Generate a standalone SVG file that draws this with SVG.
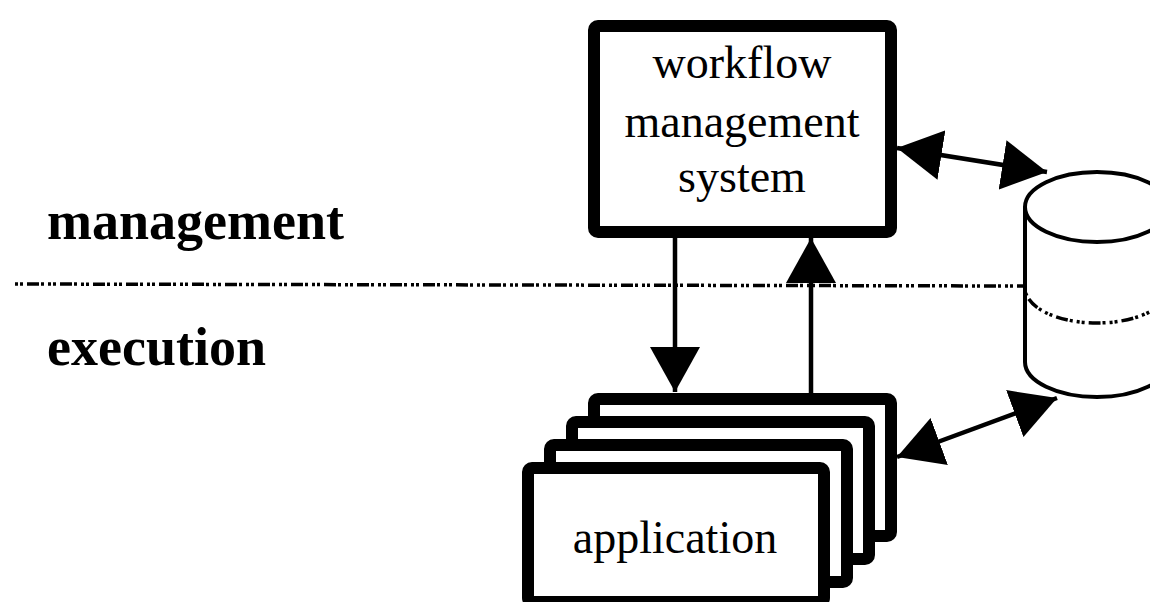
<svg xmlns="http://www.w3.org/2000/svg" width="1150" height="602" viewBox="0 0 1150 602">
<style>
.box{fill:#fff;stroke:#000;stroke-width:12;stroke-linejoin:round}
.lbl{font-family:"Liberation Serif","Times New Roman",serif;font-size:46px;fill:#000;text-anchor:middle}
.side{font-family:"Liberation Serif","Times New Roman",serif;font-size:54px;font-weight:bold;fill:#000}
.conn{stroke:#000;stroke-width:4.5;fill:none}
.dot{stroke:#000;stroke-width:3.5;fill:none;stroke-dasharray:3 2 3 4 12 2 3 4}
.cyl{fill:#fff;stroke:#000;stroke-width:4}
</style>
<defs>
<marker id="ah" markerUnits="userSpaceOnUse" markerWidth="46" markerHeight="50" refX="45" refY="25" orient="auto-start-reverse" viewBox="0 0 46 50">
<path d="M0,0 L45,25 L0,50 z" fill="#000"/>
</marker>
</defs>
<rect width="1150" height="602" fill="#fff"/>
<g id="labels">
<text class="side" x="47" y="239">management</text>
<text class="side" x="47" y="365">execution</text>
</g>
<line class="dot" x1="15" y1="284" x2="1025" y2="286"/>
<g id="database">
<path class="cyl" d="M1025,207 L1025,362 A72,35 0 0 0 1169,362 L1169,207"/>
<ellipse class="cyl" cx="1097" cy="207" rx="72" ry="35"/>
<path class="dot" d="M1025,288 A72,35 0 0 0 1169,288"/>
</g>
<g id="wfms">
<rect class="box" x="594" y="26" width="297" height="206" rx="4"/>
<text class="lbl" x="742" y="78">workflow</text>
<text class="lbl" x="742" y="137">management</text>
<text class="lbl" x="742" y="192">system</text>
</g>
<g id="application">
<rect class="box" x="594" y="399" width="297" height="137" rx="4"/>
<rect class="box" x="572" y="422" width="297" height="137" rx="4"/>
<rect class="box" x="550" y="445" width="297" height="137" rx="4"/>
<rect class="box" x="528" y="468" width="296" height="134" rx="4"/>
<text class="lbl" x="675" y="553">application</text>
</g>
<g id="connectors">
<line class="conn" x1="675" y1="238" x2="675" y2="392" marker-end="url(#ah)"/>
<line class="conn" x1="811" y1="393" x2="811" y2="238" marker-end="url(#ah)"/>
<line class="conn" x1="897" y1="148" x2="1047" y2="172" marker-start="url(#ah)" marker-end="url(#ah)"/>
<line class="conn" x1="897" y1="457" x2="1057" y2="398" marker-start="url(#ah)" marker-end="url(#ah)"/>
</g>
</svg>
